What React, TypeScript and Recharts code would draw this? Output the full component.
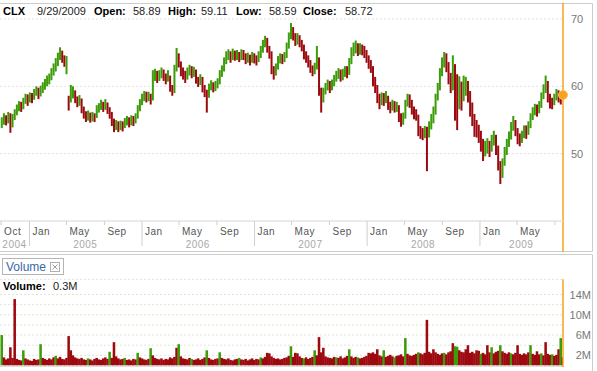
import React from 'react';
import { ComposedChart, Bar, XAxis, YAxis, CartesianGrid, ReferenceLine, ReferenceDot } from 'recharts';

// ---- quote header ----
const symbol = 'CLX';
const quoteDate = '9/29/2009';
const quoteOpen = '58.89';
const quoteHigh = '59.11';
const quoteLow = '58.59';
const quoteClose = '58.72';
const lastVolume = '0.3M';

// ---- weekly prices (Sep 2004 .. Sep 29 2009) ----
const weekClose = [
  54.6, 55.3, 54.8, 55.7, 54.2, 55.4, 56.0, 56.7, 57.3, 56.9,
  57.8, 58.4, 57.9, 58.6, 58.3, 59.0, 59.4, 58.8, 59.5, 59.9,
  60.5, 60.9, 61.2, 62.0, 62.6, 63.5, 64.3, 65.0, 64.2, 63.6,
  63.9, 57.4, 58.8, 59.2, 58.1, 57.6, 58.0, 56.7, 55.9, 55.4,
  55.8, 55.3, 55.6, 55.4, 56.6, 56.9, 57.3, 56.8, 57.4, 56.5,
  56.0, 54.9, 54.0, 54.4, 53.9, 54.3, 54.0, 54.7, 55.0, 54.5,
  55.1, 54.8, 55.4, 56.6, 57.5, 58.2, 58.7, 58.3, 58.6, 58.0,
  61.3, 61.9, 61.2, 61.7, 62.1, 61.4, 61.0, 61.8, 59.8, 59.4,
  62.5, 64.6, 63.5, 62.2, 61.8, 61.3, 62.0, 62.6, 61.9, 62.3,
  61.0, 60.6, 61.2, 59.8, 59.2, 58.6, 59.9, 60.3, 59.7, 60.2,
  60.5, 61.8, 62.4, 63.6, 64.5, 64.8, 64.2, 64.9, 64.5, 64.8,
  64.3, 64.9, 64.6, 64.0, 64.4, 63.8, 64.5, 64.1, 63.9, 64.6,
  65.3, 66.2, 66.8, 65.7, 64.9, 62.6, 62.0, 62.8, 63.9, 64.3,
  64.0, 64.5, 65.8, 67.4, 68.3, 67.5, 66.8, 67.2, 66.5, 66.0,
  64.8, 64.2, 63.6, 62.7, 62.2, 62.8, 64.8, 59.5, 58.3, 59.0,
  59.8, 60.3, 59.7, 60.4, 61.0, 61.6, 62.0, 61.4, 61.9, 62.3,
  62.0, 63.5, 65.0, 65.6, 65.9, 65.2, 65.7, 65.4, 65.0, 64.3,
  63.4, 62.8, 60.8, 59.9, 58.4, 57.6, 58.3, 57.9, 58.5, 57.2,
  56.8, 57.3, 56.9, 57.0, 55.6, 54.9, 55.4, 57.2, 58.1, 57.7,
  56.5, 56.0, 55.7, 53.5, 53.0, 52.8, 53.3, 52.6, 54.0, 54.8,
  56.2, 58.1, 59.6, 61.8, 63.2, 64.2, 63.0, 61.5, 60.0, 62.5,
  60.5, 57.8, 59.2, 58.6, 59.8, 60.4, 58.9, 57.0, 55.3, 54.4,
  53.6, 52.9, 51.6, 50.4, 50.9, 51.3, 50.6, 51.9, 52.5, 51.0,
  48.6, 46.9, 48.5, 50.2, 51.3, 52.4, 53.8, 54.6, 53.5, 52.3,
  52.0, 52.6, 53.4, 53.1, 54.0, 55.2, 56.1, 56.6, 56.3, 57.0,
  58.3, 59.4, 60.6, 58.5, 57.6, 57.4, 58.2, 58.9, 58.3, 58.0, 58.72,
];

const weekHigh = [
  55.4, 56.0, 55.7, 56.2, 56.0, 55.9, 56.6, 57.3, 57.8, 57.7,
  58.3, 58.9, 58.8, 59.1, 59.0, 59.6, 60.0, 59.8, 60.1, 60.6,
  61.1, 61.6, 61.9, 62.7, 63.4, 64.2, 65.0, 65.8, 65.3, 64.6,
  64.5, 58.6, 60.2, 60.0, 59.4, 58.5, 58.7, 58.2, 57.0, 56.3,
  56.4, 56.1, 56.2, 56.0, 57.2, 57.5, 58.0, 57.7, 58.1, 57.6,
  56.9, 56.2, 55.2, 55.0, 54.8, 54.9, 54.8, 55.3, 55.6, 55.4,
  55.7, 55.6, 56.0, 57.2, 58.1, 58.9, 59.3, 59.2, 59.2, 58.9,
  62.4, 62.6, 62.3, 62.4, 62.8, 62.5, 61.9, 62.4, 61.6, 60.2,
  63.2, 65.7, 64.9, 63.7, 62.8, 62.3, 62.8, 63.2, 63.0, 62.9,
  62.5, 61.4, 61.8, 61.4, 60.2, 59.5, 60.4, 60.9, 60.6, 60.8,
  61.2, 62.4, 63.1, 64.3, 65.2, 65.5, 65.2, 65.6, 65.3, 65.4,
  65.1, 65.5, 65.4, 64.9, 65.0, 64.7, 65.1, 64.9, 64.6, 65.2,
  66.0, 66.9, 67.5, 67.2, 66.0, 65.2, 63.0, 63.4, 64.5, 64.9,
  64.8, 65.1, 66.5, 68.0, 69.4, 68.8, 67.9, 67.9, 67.6, 66.9,
  66.2, 65.2, 64.6, 63.9, 63.1, 63.5, 66.0, 64.3, 59.8, 59.8,
  60.5, 61.0, 60.8, 61.0, 61.7, 62.3, 62.7, 62.5, 62.6, 63.0,
  63.0, 64.2, 65.8, 66.5, 66.8, 66.4, 66.4, 66.2, 66.0, 65.4,
  64.6, 63.9, 63.0, 61.4, 60.2, 58.9, 59.1, 59.0, 59.3, 58.6,
  57.7, 58.0, 57.8, 57.7, 57.2, 56.0, 56.1, 58.0, 58.9, 58.8,
  58.0, 57.0, 56.6, 55.8, 54.1, 53.8, 54.1, 54.0, 54.8, 55.9,
  57.0, 58.9, 60.5, 62.7, 64.3, 65.1, 64.9, 63.6, 62.0, 64.6,
  63.3, 61.8, 61.5, 60.7, 61.6, 61.4, 60.8, 59.3, 57.6, 55.9,
  55.0, 54.3, 53.4, 52.2, 51.9, 52.3, 51.9, 52.8, 53.4, 52.8,
  51.2, 48.9, 49.3, 51.0, 52.2, 53.3, 54.7, 55.6, 55.0, 53.8,
  53.0, 53.4, 54.2, 54.2, 54.8, 56.0, 56.9, 57.4, 57.3, 57.8,
  59.1, 60.3, 61.6, 60.8, 58.9, 58.3, 58.9, 59.6, 59.4, 58.9, 59.11,
];

const weekLow = [
  53.8, 54.3, 54.2, 54.5, 53.1, 53.9, 55.0, 55.7, 56.3, 56.2,
  56.6, 57.4, 57.1, 57.6, 57.5, 58.0, 58.6, 58.1, 58.5, 59.0,
  59.5, 60.0, 60.3, 60.9, 61.6, 62.2, 63.0, 63.9, 63.5, 62.9,
  61.8, 56.4, 57.6, 58.2, 57.5, 56.9, 57.1, 56.0, 55.2, 54.7,
  54.9, 54.6, 54.8, 54.7, 55.3, 56.1, 56.5, 56.2, 56.5, 55.9,
  55.2, 54.1, 53.2, 53.5, 53.2, 53.5, 53.3, 53.8, 54.2, 53.9,
  54.2, 54.1, 54.5, 55.2, 56.3, 57.2, 57.8, 57.6, 57.8, 57.3,
  57.9, 60.8, 60.5, 60.8, 61.2, 60.8, 60.3, 60.7, 59.2, 58.6,
  59.0, 62.2, 62.8, 61.5, 61.0, 60.5, 61.0, 61.6, 61.2, 61.4,
  60.4, 59.9, 60.2, 59.1, 58.4, 56.1, 58.3, 59.4, 59.1, 59.3,
  59.7, 60.3, 61.4, 62.2, 63.3, 63.9, 63.5, 63.9, 63.8, 63.9,
  63.6, 63.9, 63.9, 63.3, 63.5, 63.1, 63.5, 63.4, 63.1, 63.6,
  64.2, 65.0, 65.8, 65.0, 64.1, 61.8, 61.0, 61.6, 62.5, 63.4,
  63.3, 63.6, 64.2, 65.6, 67.0, 66.8, 66.0, 66.2, 65.8, 65.2,
  64.0, 63.5, 62.8, 62.0, 61.5, 61.8, 62.5, 58.6, 56.1, 57.6,
  58.8, 59.4, 59.0, 59.4, 60.0, 60.7, 61.1, 60.7, 60.9, 61.4,
  61.2, 61.7, 63.3, 64.5, 64.9, 64.5, 64.7, 64.6, 64.2, 63.5,
  62.6, 62.0, 60.0, 59.0, 57.5, 56.6, 57.2, 57.1, 57.5, 56.5,
  56.0, 56.4, 56.1, 56.2, 54.7, 54.0, 54.3, 55.2, 57.0, 56.8,
  55.8, 55.1, 54.9, 52.6, 52.2, 52.0, 52.3, 47.4, 52.4, 53.6,
  54.5, 55.8, 57.9, 59.4, 61.5, 62.8, 62.1, 60.3, 59.0, 59.4,
  54.9, 53.5, 56.6, 56.4, 57.8, 58.6, 57.6, 55.5, 54.1, 52.5,
  52.4, 51.6, 50.3, 48.9, 49.6, 50.0, 49.5, 50.3, 51.2, 49.8,
  47.5, 45.5, 46.4, 48.2, 49.8, 51.0, 52.1, 53.4, 52.6, 51.4,
  51.1, 51.6, 52.3, 52.2, 52.8, 53.8, 55.0, 55.7, 55.5, 56.0,
  56.8, 58.1, 59.0, 57.6, 56.7, 56.6, 57.2, 57.9, 57.6, 57.3, 57.9,
];

// volume in millions of shares
const weekVolume = [
  6.0, 1.6, 1.2, 1.4, 3.6, 1.5, 13.1, 1.3, 1.1, 1.0,
  3.0, 1.4, 1.2, 1.0, 0.9, 1.3, 1.1, 1.2, 4.2, 1.5,
  1.3, 1.1, 1.4, 1.2, 1.6, 1.9, 1.4, 1.7, 1.3, 1.2,
  1.5, 5.8, 3.0, 2.0, 1.6, 1.4, 1.3, 1.5, 1.2, 1.1,
  1.4, 1.2, 1.0, 1.3, 1.5, 1.2, 1.1, 1.4, 1.6, 1.3,
  2.7, 1.5, 4.6, 1.8, 1.4, 1.2, 1.3, 1.5, 1.1, 1.2,
  1.0, 1.3, 1.2, 2.5, 1.6, 1.4, 1.2, 1.1, 1.3, 3.4,
  2.0, 1.5, 1.3, 1.2, 1.4, 1.1, 1.3, 1.2, 1.6, 1.4,
  1.7, 3.5, 4.2, 1.8, 1.4, 1.3, 1.2, 1.5, 1.3, 1.1,
  1.2, 1.4, 1.1, 1.3, 1.6, 3.0, 1.5, 1.2, 1.1, 1.3,
  1.4, 2.6, 1.5, 1.3, 1.2, 1.4, 1.1, 1.0, 1.2, 1.3,
  1.5, 1.2, 1.1, 1.3, 1.0, 1.2, 1.4, 1.1, 1.3, 1.2,
  1.6, 1.4, 1.7, 2.5, 2.4, 1.8, 1.5, 1.3, 1.4, 1.2,
  1.3, 1.5, 1.6, 1.9, 3.8, 1.7, 2.5, 2.4, 1.8, 1.5,
  1.4, 1.6, 1.3, 1.5, 1.7, 3.0, 2.0, 5.6, 2.6, 3.5,
  1.8, 1.6, 1.5, 1.4, 1.7, 1.6, 1.5, 1.8, 1.4, 1.6,
  1.9, 3.2, 1.8, 1.5, 1.7, 1.6, 1.4, 1.5, 1.7, 1.9,
  2.5, 2.4, 2.6, 2.3, 3.2, 2.0, 1.8, 3.0, 1.7, 1.9,
  2.1, 1.8, 1.6, 1.9, 2.0, 2.2, 1.8, 5.4, 2.3, 2.0,
  1.9, 2.1, 2.3, 2.6, 2.4, 2.2, 2.5, 9.0, 2.7, 2.4,
  3.2, 2.6, 2.3, 2.1, 2.4, 2.5, 2.2, 2.6, 2.8, 4.4,
  3.8, 3.7, 3.0, 2.7, 2.6, 3.2, 4.0, 2.5, 2.7, 2.4,
  3.0, 2.9, 2.3, 2.5, 2.2, 4.0, 2.6, 3.6, 2.4, 2.7,
  2.9, 4.0, 2.8, 2.5, 2.3, 2.6, 2.4, 2.2, 2.5, 4.0,
  2.3, 2.1, 2.4, 2.2, 2.6, 4.0, 2.3, 2.1, 2.8, 2.2,
  2.4, 2.0, 4.6, 2.3, 2.1, 2.2, 1.9, 2.1, 3.2, 5.4, 1.6,
];

// weeks whose volume bar is drawn green
const greenVolumeWeeks = [0, 10, 18, 25, 40, 50, 57, 63, 69, 82, 88, 95, 101, 110, 120, 134, 140, 145, 155, 161, 165, 177, 182, 187, 193, 205, 210, 211, 222, 227, 231, 236, 245, 250, 255, 259];

// ---- axes ----
// [year, month index, label] ; an empty label draws only the tick mark
const monthTicks: [number, number, string][] = [
  [2004, 9, 'Oct'],
  [2005, 0, 'Jan'], [2005, 4, 'May'], [2005, 8, 'Sep'],
  [2006, 0, 'Jan'], [2006, 4, 'May'], [2006, 8, 'Sep'],
  [2007, 0, 'Jan'], [2007, 4, 'May'], [2007, 8, 'Sep'],
  [2008, 0, 'Jan'], [2008, 4, 'May'], [2008, 8, 'Sep'],
  [2009, 0, 'Jan'], [2009, 4, 'May'], [2009, 8, ''],
];
const yearLabels = [2004, 2005, 2006, 2007, 2008, 2009];
const priceGridTicks = [40, 50, 60, 70];
const priceLabelTicks = [50, 60, 70];
const volumeGridTicks = [2, 4, 6, 8, 10, 12, 14];
const volumeLabelTicks = [2, 6, 10, 14];

// ---- colours ----
const GREEN = '#3c9c0a';
const RED = '#9c0a10';
const ORANGE = '#f7a21b';
const FONT = 'Arial, "Liberation Sans", sans-serif';

const DAY_MS = 86400000;
const START = Date.UTC(2004, 8, 29);
const dayOf = (y: number, m: number, d = 1) => (Date.UTC(y, m, d) - START) / DAY_MS;
const END_DAY = dayOf(2009, 8, 29);
const N = weekClose.length;

const rows = weekClose.map((c, i) => ({
  day: END_DAY - 7 * (N - 1 - i),
  range: [weekLow[i], weekHigh[i]],
  up: i === 0 ? true : c >= weekClose[i - 1],
  close: c,
  vol: weekVolume[i],
  volUp: greenVolumeWeeks.includes(i),
}));
const lastRow = rows[rows.length - 1];

type TickInfo = { kind: 'month'; label: string; jan: boolean } | { kind: 'year'; label: string };
const tickInfo = new Map<number, TickInfo>();
monthTicks.forEach(([y, m, label]) => tickInfo.set(dayOf(y, m), { kind: 'month', label, jan: m === 0 }));
yearLabels.forEach((y) => {
  const s = Math.max(0, dayOf(y, 0));
  const e = Math.min(END_DAY, dayOf(y + 1, 0));
  tickInfo.set((s + e) / 2 + 0.001, { kind: 'year', label: String(y) });
});
const xTicks = Array.from(tickInfo.keys()).sort((a, b) => a - b);

const TimeTick = (props: any) => {
  const { x, y, payload } = props;
  const info = tickInfo.get(payload.value);
  if (!info) return null;
  if (info.kind === 'year') {
    return (
      <text x={x} y={y + 27} textAnchor="middle" fontSize={10} letterSpacing={0.5} fill="#a8a8a8" fontFamily={FONT}>
        {info.label}
      </text>
    );
  }
  return (
    <g>
      <line x1={x + 0.5} x2={x + 0.5} y1={y} y2={y + (info.jan ? 25 : 4)} stroke="#cfcfcf" strokeWidth={1} />
      {info.label ? (
        <text x={x + 3.5} y={y + 14} fontSize={10} letterSpacing={0.5} fill="#555" fontFamily={FONT}>
          {info.label}
        </text>
      ) : null}
    </g>
  );
};

const PriceTick = (props: any) => {
  const { y, payload } = props;
  if (!priceLabelTicks.includes(payload.value)) return null;
  return (
    <text x={571} y={y + 4} fontSize={11} fill="#777" fontFamily={FONT}>
      {payload.value}
    </text>
  );
};

const VolumeTick = (props: any) => {
  const { y, payload } = props;
  if (!volumeLabelTicks.includes(payload.value)) return null;
  return (
    <text x={591} y={y + 4} textAnchor="end" fontSize={11} fill="#777" fontFamily={FONT}>
      {payload.value}M
    </text>
  );
};

const PriceBarShape = (p: any) => {
  const { x, y, width, height, payload } = p;
  if (x == null || y == null || height == null) return null;
  const h = Math.abs(height);
  const top = height < 0 ? y + height : y;
  return <rect x={x} y={top} width={width} height={Math.max(h, 1)} fill={payload.up ? GREEN : RED} />;
};

const VolumeBarShape = (p: any) => {
  const { x, y, width, height, payload } = p;
  if (x == null || y == null || height == null) return null;
  const h = Math.abs(height);
  const top = height < 0 ? y + height : y;
  // widen slightly so neighbouring bars touch, like the dense daily bars of the reference
  return <rect x={x - 0.3} y={top} width={width + 0.6} height={Math.max(h, 0.5)} fill={payload.volUp ? GREEN : RED} />;
};

const headerPieces: { x: number; text: string; bold: boolean }[] = [
  { x: 3, text: symbol, bold: true },
  { x: 37, text: quoteDate, bold: false },
  { x: 94, text: 'Open:', bold: true },
  { x: 133, text: quoteOpen, bold: false },
  { x: 168, text: 'High:', bold: true },
  { x: 201, text: quoteHigh, bold: false },
  { x: 236, text: 'Low:', bold: true },
  { x: 269, text: quoteLow, bold: false },
  { x: 303, text: 'Close:', bold: true },
  { x: 345, text: quoteClose, bold: false },
];

export default function App() {
  return (
    <div style={{ position: 'absolute', left: 0, top: 0, width: 597, height: 371, background: '#fff', overflow: 'hidden' }}>
      <svg width={597} height={371} style={{ position: 'absolute', left: 0, top: 0 }}>
        {/* panel frames */}
        <path d="M-1 3.5 H592.5 V251.5 H-1" fill="none" stroke="#cccccc" />
        <path d="M-1 254.5 H592.5 V372" fill="none" stroke="#cccccc" />
        <line x1={0} x2={563} y1={366.5} y2={366.5} stroke="#dddddd" />
        {headerPieces.map((p, i) => (
          <text key={i} x={p.x} y={15} fontSize={11} fontWeight={p.bold ? 'bold' : 'normal'} fill={p.bold ? '#000' : '#222'} fontFamily={FONT}>
            {p.text}
          </text>
        ))}
        {/* volume toggle */}
        <rect x={2.5} y={258.5} width={61} height={16} fill="#fff" stroke="#b4b4b4" />
        <text x={6} y={271} fontSize={12} fill="#3a68a8" fontFamily={FONT}>Volume</text>
        <rect x={50.5} y={262.5} width={9} height={9} fill="#fff" stroke="#b0b0b0" />
        <path d="M52.5 264.5 L57.5 269.5 M57.5 264.5 L52.5 269.5" stroke="#a0a0a0" />
        <text x={3} y={290} fontSize={11} fill="#000" fontFamily={FONT}>
          <tspan fontWeight="bold">Volume:</tspan>
          <tspan x={53} fill="#222">{lastVolume}</tspan>
        </text>
      </svg>

      <div style={{ position: 'absolute', left: 0, top: 0 }}>
        <ComposedChart width={597} height={252} data={rows} margin={{ top: 19, right: 0, bottom: 0, left: 0 }}>
          <CartesianGrid vertical={false} stroke="#e2e2e2" strokeDasharray="2 2" />
          <XAxis
            dataKey="day"
            type="number"
            domain={[0, END_DAY]}
            ticks={xTicks}
            interval={0}
            tick={<TimeTick />}
            tickLine={false}
            tickSize={0}
            tickMargin={0}
            axisLine={{ stroke: '#e6e6e6', strokeWidth: 1.5 }}
            height={31}
            allowDataOverflow
          />
          <YAxis
            orientation="right"
            domain={[40, 70]}
            ticks={priceGridTicks}
            interval={0}
            width={34}
            tickLine={false}
            axisLine={false}
            tick={<PriceTick />}
            allowDataOverflow
          />
          <Bar dataKey="range" barSize={2} isAnimationActive={false} shape={<PriceBarShape />} />
          <ReferenceLine
            segment={[{ x: END_DAY, y: 35.4 }, { x: END_DAY, y: 72.4 }]}
            stroke={ORANGE}
            strokeWidth={1.5}
            ifOverflow="visible"
          />
          <ReferenceDot x={lastRow.day} y={lastRow.close} r={4.5} fill={ORANGE} stroke="#fbc15a" strokeWidth={1} ifOverflow="visible" />
        </ComposedChart>
      </div>

      <div style={{ position: 'absolute', left: 0, top: 255 }}>
        <ComposedChart width={597} height={116} data={rows} margin={{ top: 24.3, right: 0, bottom: 5.5, left: 0 }}>
          <CartesianGrid vertical={false} stroke="#e4e4d6" strokeDasharray="2 2" />
          <XAxis dataKey="day" type="number" domain={[0, END_DAY]} hide allowDataOverflow />
          <YAxis
            orientation="right"
            domain={[0, 17]}
            ticks={volumeGridTicks}
            interval={0}
            width={34}
            tickLine={false}
            axisLine={false}
            tick={<VolumeTick />}
            allowDataOverflow
          />
          <Bar dataKey="vol" barSize={2.6} isAnimationActive={false} shape={<VolumeBarShape />} />
          <ReferenceLine
            segment={[{ x: END_DAY, y: -0.3 }, { x: END_DAY, y: 17 }]}
            stroke={ORANGE}
            strokeWidth={1.5}
            ifOverflow="visible"
          />
        </ComposedChart>
      </div>
    </div>
  );
}
